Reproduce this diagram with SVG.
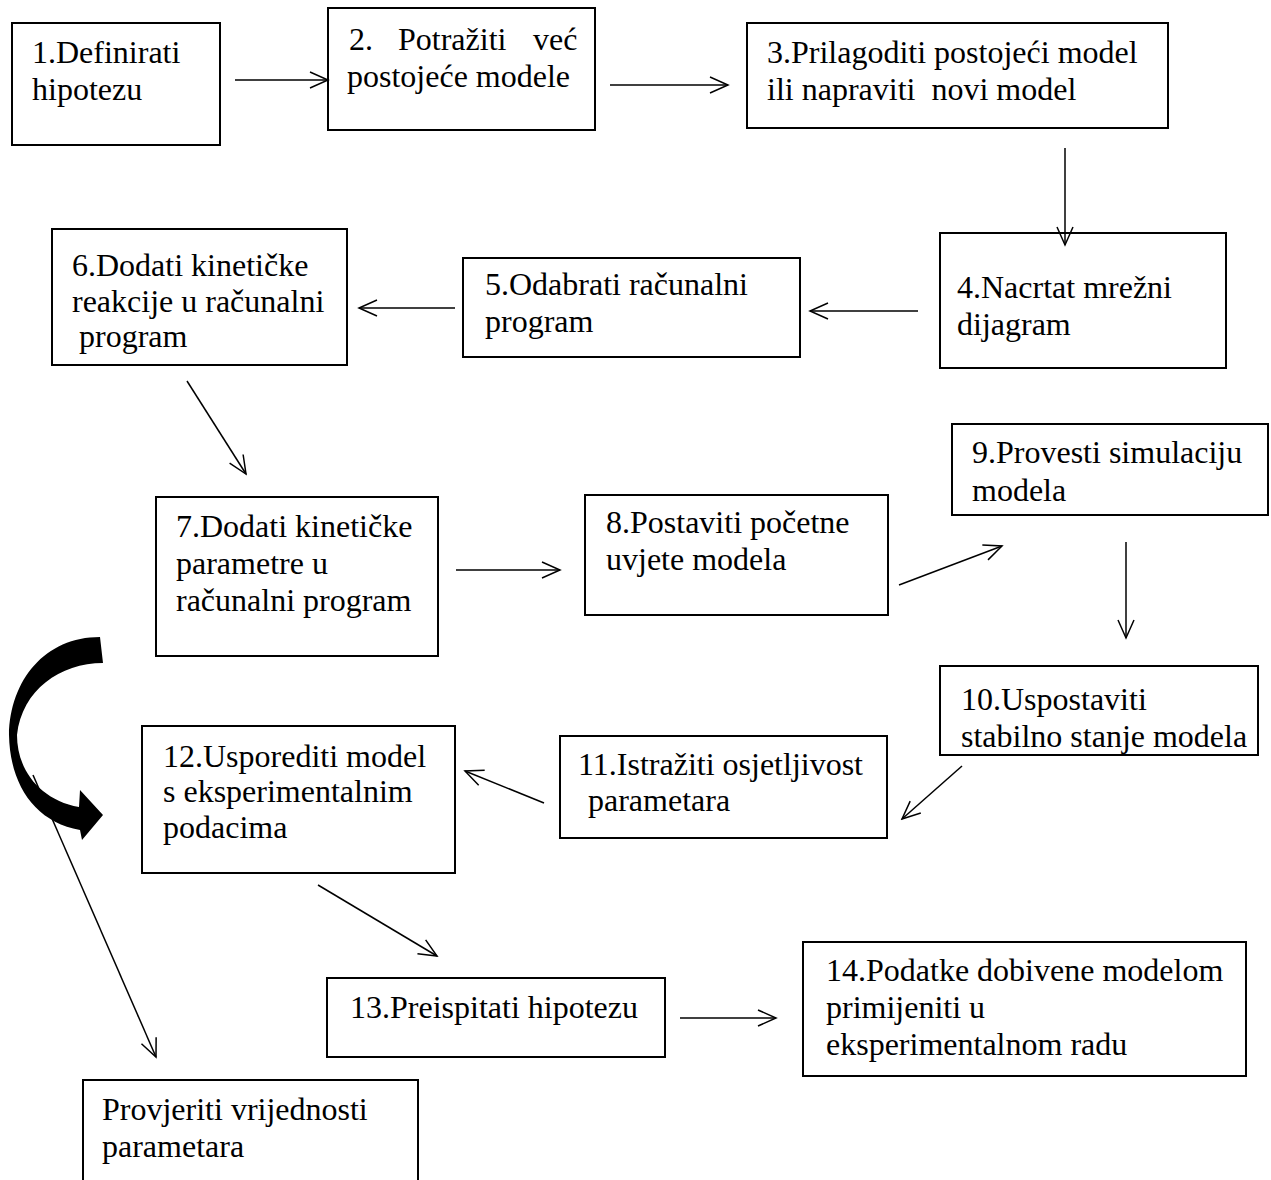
<svg xmlns="http://www.w3.org/2000/svg" width="1271" height="1180" viewBox="0 0 1271 1180">
<style>
.box{fill:#fff;stroke:#000;stroke-width:2}
.t{font-family:"Liberation Serif","Times New Roman",serif;font-size:32px;fill:#000}
.c{fill:none;stroke:#000;stroke-width:1.5;marker-end:url(#ah)}
</style>
<defs>
<marker id="ah" viewBox="0 0 22 20" refX="20" refY="10" markerWidth="22" markerHeight="20" markerUnits="userSpaceOnUse" orient="auto">
<path d="M2,2 L20,10 L2,18" fill="none" stroke="#000" stroke-width="1.5"/>
</marker>
</defs>
<rect width="1271" height="1180" fill="#fff"/>
<g id="n1"><rect class="box" x="12" y="23" width="208" height="122"/><text class="t" x="32" y="63">1.Definirati</text><text class="t" x="32" y="100">hipotezu</text></g>
<g id="n2"><rect class="box" x="328" y="8" width="267" height="122"/><text class="t" y="50"><tspan x="349">2.</tspan><tspan x="398">Potražiti</tspan><tspan x="533">već</tspan></text><text class="t" x="347" y="87">postojeće modele</text></g>
<g id="n3"><rect class="box" x="747" y="23" width="421" height="105"/><text class="t" x="767" y="63">3.Prilagoditi postojeći model</text><text class="t" x="767" y="100" xml:space="preserve">ili napraviti  novi model</text></g>
<g id="n4"><rect class="box" x="940" y="233" width="286" height="135"/><text class="t" x="957" y="298">4.Nacrtat mrežni</text><text class="t" x="957" y="335">dijagram</text></g>
<g id="n5"><rect class="box" x="463" y="258" width="337" height="99"/><text class="t" x="485" y="295">5.Odabrati računalni</text><text class="t" x="485" y="332">program</text></g>
<g id="n6"><rect class="box" x="52" y="229" width="295" height="136"/><text class="t" x="72" y="276">6.Dodati kinetičke</text><text class="t" x="72" y="312">reakcije u računalni</text><text class="t" x="79" y="347">program</text></g>
<g id="n7"><rect class="box" x="156" y="497" width="282" height="159"/><text class="t" x="176" y="537">7.Dodati kinetičke</text><text class="t" x="176" y="574">parametre u</text><text class="t" x="176" y="611">računalni program</text></g>
<g id="n8"><rect class="box" x="585" y="495" width="303" height="120"/><text class="t" x="606" y="533">8.Postaviti početne</text><text class="t" x="606" y="570">uvjete modela</text></g>
<g id="n9"><rect class="box" x="952" y="424" width="316" height="91"/><text class="t" x="972" y="463">9.Provesti simulaciju</text><text class="t" x="972" y="501">modela</text></g>
<g id="n10"><rect class="box" x="940" y="666" width="318" height="89"/><text class="t" x="961" y="710">10.Uspostaviti</text><text class="t" x="961" y="747">stabilno stanje modela</text></g>
<g id="n11"><rect class="box" x="560" y="736" width="327" height="102"/><text class="t" x="578" y="775">11.Istražiti osjetljivost</text><text class="t" x="588" y="811">parametara</text></g>
<g id="n12"><rect class="box" x="142" y="726" width="313" height="147"/><text class="t" x="163" y="767">12.Usporediti model</text><text class="t" x="163" y="802">s eksperimentalnim</text><text class="t" x="163" y="838">podacima</text></g>
<g id="n13"><rect class="box" x="327" y="978" width="338" height="79"/><text class="t" x="350" y="1018">13.Preispitati hipotezu</text></g>
<g id="n14"><rect class="box" x="803" y="942" width="443" height="134"/><text class="t" x="826" y="981">14.Podatke dobivene modelom</text><text class="t" x="826" y="1018">primijeniti u</text><text class="t" x="826" y="1055">eksperimentalnom radu</text></g>
<g id="n15"><rect class="box" x="83" y="1080" width="335" height="130"/><text class="t" x="102" y="1120">Provjeriti vrijednosti</text><text class="t" x="102" y="1157">parametara</text></g>
<g id="curved"><path d="M100,637 L103,663 C60,663 22,690 17,735 C17,770 40,800 79,807 L80,790 L103,815 L82,840 L80,830 C35,822 10,785 9,735 C10,680 45,637 100,637 Z" fill="#000"/></g>
<g id="connectors">
<line class="c" x1="235" y1="80" x2="328" y2="80"/>
<line class="c" x1="610" y1="85" x2="728" y2="85"/>
<line class="c" x1="1065" y1="148" x2="1065" y2="245"/>
<line class="c" x1="918" y1="311" x2="810" y2="311"/>
<line class="c" x1="455" y1="308" x2="359" y2="308"/>
<line class="c" x1="187" y1="381" x2="246" y2="474"/>
<line class="c" x1="456" y1="570" x2="560" y2="570"/>
<line class="c" x1="899" y1="585" x2="1002" y2="546"/>
<line class="c" x1="1126" y1="542" x2="1126" y2="638"/>
<line class="c" x1="962" y1="766" x2="902" y2="819"/>
<line class="c" x1="544" y1="803" x2="465" y2="771"/>
<line class="c" x1="318" y1="885" x2="437" y2="956"/>
<line class="c" x1="680" y1="1018" x2="776" y2="1018"/>
<line class="c" x1="33" y1="775" x2="156" y2="1057"/>
</g>
</svg>
